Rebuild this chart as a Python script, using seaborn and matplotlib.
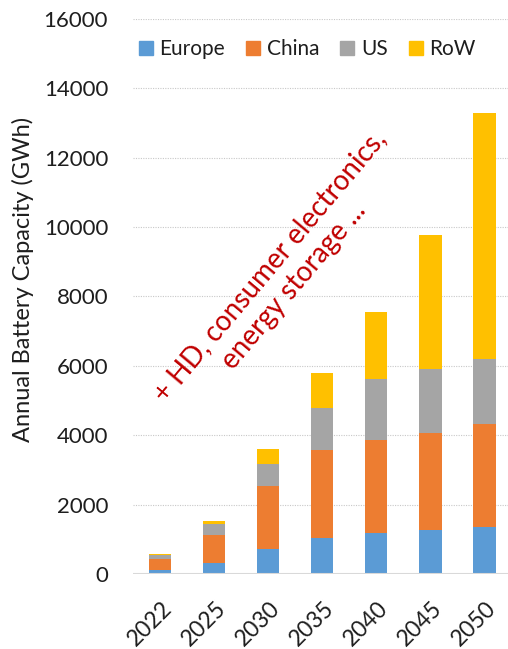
import matplotlib
matplotlib.use("Agg")
import matplotlib.pyplot as plt
from matplotlib.lines import Line2D
from matplotlib.transforms import ScaledTranslation
import pandas as pd
import seaborn as sns

# Annual battery capacity by region (GWh)
years = ["2022", "2025", "2030", "2035", "2040", "2045", "2050"]
europe = [115, 317, 721, 1050, 1182, 1278, 1364]
china = [317, 817, 1807, 2530, 2673, 2778, 2952]
us = [106, 311, 653, 1206, 1767, 1845, 1883]
row = [48, 83, 423, 1018, 1940, 3864, 7083]

regions = ["Europe", "China", "US", "RoW"]
colors = ["#5B9BD5", "#ED7D31", "#A5A5A5", "#FFC000"]
yticks = list(range(0, 16001, 2000))

sns.set_theme(style="white")
plt.rcParams["font.family"] = ["Lato", "DejaVu Sans"]

df = pd.DataFrame({"year": years, "Europe": europe, "China": china,
                   "US": us, "RoW": row})
# cumulative tops for stacking, drawn from the tallest layer downward
cum = df[regions].cumsum(axis=1)

fig = plt.figure(figsize=(5.08, 6.49), dpi=100)
ax = fig.add_axes([0.262, 0.1156, 0.745, 0.8551])

for reg, col in reversed(list(zip(regions, colors))):
    sns.barplot(x=df["year"], y=cum[reg], color=col, width=0.41,
                linewidth=0, saturation=1, ax=ax, zorder=3)

ax.set_ylim(0, 16000)
ax.set_xlim(-0.5, 6.5)
ax.set_yticks(yticks)
ax.set_yticklabels([str(t) for t in yticks], fontsize=16, color="#1e1e1e")
ax.tick_params(axis="y", length=0, pad=18)
ax.tick_params(axis="x", length=0, pad=17)
shift = ScaledTranslation(1 / 100, 0, fig.dpi_scale_trans)
for lab in ax.get_xticklabels():
    lab.set_rotation(45)
    lab.set_ha("right")
    lab.set_va("top")
    lab.set_rotation_mode("anchor")
    lab.set_fontsize(16.5)
    lab.set_color("#1e1e1e")
    lab.set_transform(lab.get_transform() + shift)
ax.set_xlabel("")
ax.set_ylabel("Annual Battery Capacity (GWh)", fontsize=17, color="#1e1e1e")
ax.yaxis.set_label_coords(-0.262, 0.53)

for t in yticks[1:]:
    ax.axhline(t, color="#C8C8C8", lw=0.8, ls=(0, (1, 1.2)), zorder=1)
ax.axhline(0, color="#D9D9D9", lw=1.5, zorder=4)
for s in ax.spines.values():
    s.set_visible(False)

handles = [Line2D([], [], marker="s", ls="", color=c, markersize=9.5)
           for c in colors]
ax.legend(handles, regions, loc="center", bbox_to_anchor=(0.46, 0.946),
          ncol=4, frameon=False, fontsize=15, handletextpad=0.3,
          columnspacing=1.0, handlelength=0.7, labelcolor="#1e1e1e")

ax.text(2.25, 8590, "+ HD, consumer electronics,\nenergy storage ...",
        rotation=50, rotation_mode="anchor", ha="center", va="center",
        multialignment="center", linespacing=1.25, fontsize=20,
        color="#C00000", zorder=5)

fig.savefig("out.png", dpi=100)
